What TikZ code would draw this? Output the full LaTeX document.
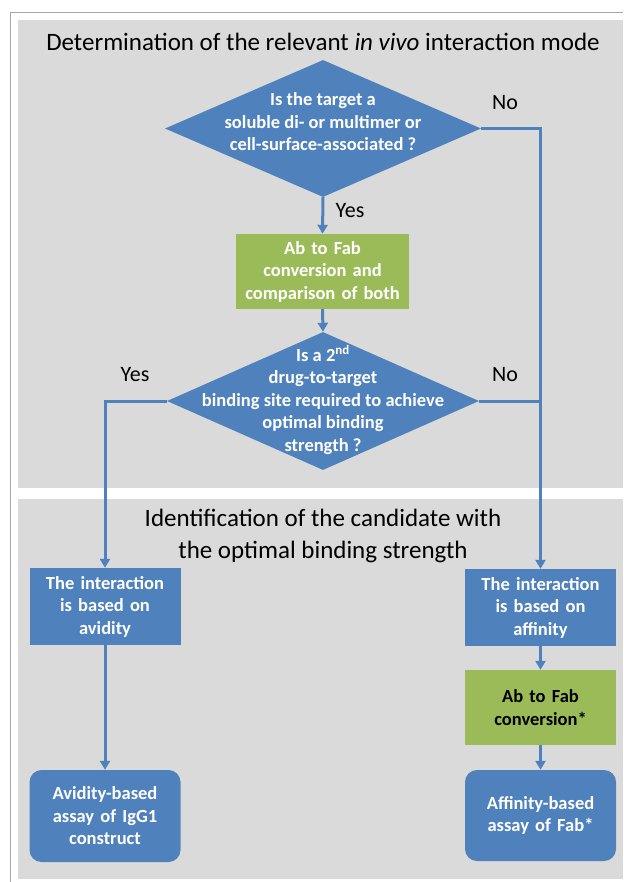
\documentclass[tikz,border=0pt]{standalone}
\usepackage{fontspec}
\setmainfont{Carlito}
\usetikzlibrary{shapes.geometric,arrows.meta}
\definecolor{Bbox}{RGB}{79,129,189}
\definecolor{Gbox}{RGB}{155,187,89}
\definecolor{Panel}{RGB}{218,218,218}
\definecolor{Frame}{RGB}{165,165,165}

\tikzset{
  decision/.style={diamond,fill=Bbox,inner sep=0pt,minimum width=316pt,minimum height=137pt},
  dtext/.style={text=white,align=center,font=\bfseries\fontsize{18.5}{22.5}\selectfont},
  bluebox/.style={rectangle,fill=Bbox,text=white,minimum width=151pt,minimum height=77pt,
    text width=145pt,align=center,inner sep=0pt,font=\bfseries\fontsize{18.5}{22.5}\selectfont},
  greenbox/.style={bluebox,fill=Gbox},
  endbox/.style={bluebox,rounded corners=12pt,minimum height=92pt},
  flow/.style={draw=Bbox,line width=3pt},
  flowarr/.style={flow,-{Triangle[width=10pt,length=9pt]}},
  lbl/.style={font=\fontsize{22}{24}\selectfont},
  heading/.style={align=center,font=\fontsize{25}{32}\selectfont}
}

\begin{document}
\begin{tikzpicture}[x=1pt,y=-1pt]
\path[use as bounding box,fill=white] (0,0) rectangle (623,882);
\draw[Frame,line width=1pt] (10.5,882) -- (10.5,13) -- (623,13);
\fill[Panel] (18,20) rectangle (623,488);
\fill[Panel] (18,499) rectangle (623,879);

% upper part
\node[heading] (title1) at (323,42) {Determination of the relevant \textit{in vivo} interaction mode};
\node[decision] (q1) at (323,128.5) {};
\node[dtext] (q1t) at (323,122) {Is the target a\\soluble di- or multimer or\\cell-surface-associated ?};
\node[greenbox,minimum width=173pt,text width=165pt,minimum height=75pt] (conv) at (322.5,271.5) {Ab to Fab\\conversion and\\comparison of both};
\node[decision,minimum width=312pt,minimum height=138pt] (q2) at (323,401) {};
\node[dtext] (q2t) at (323,400) {Is a 2\textsuperscript{nd}\\drug-to-target\\binding site required to achieve\\optimal binding\\strength ?};

% lower part
\node[heading] (title2) at (323,536) {Identification of the candidate with\\the optimal binding strength};
\node[bluebox] (vbox) at (105,606.5) {The interaction\\is based on\\avidity};
\node[bluebox] (abox) at (540.5,607.5) {The interaction\\is based on\\affinity};
\node[greenbox,text=black,minimum height=75pt] (fab) at (540.5,707.5) {Ab to Fab\\conversion*};
\node[endbox] (vassay) at (105,816) {Avidity-based\\assay of IgG1\\construct};
\node[endbox,minimum height=91pt] (fassay) at (540.5,815.5) {Affinity-based\\assay of Fab*};

% labels
\node[lbl] (yes1) at (350,211) {Yes};
\node[lbl] (no1) at (505,103) {No};
\node[lbl] (yes2) at (135,375) {Yes};
\node[lbl] (no2) at (505,375) {No};

% connectors
\draw[flowarr] (q1.south) -- (conv.north);
\draw[flowarr] (conv.south) -- (q2.north);
\draw[flowarr] (q1.east) -| (abox.north);
\draw[flow] (q2.east) -- (q2.east -| abox.north);
\draw[flowarr] (q2.west) -| (vbox.north);
\draw[flowarr] (vbox.south) -- (vassay.north);
\draw[flowarr] (abox.south) -- (fab.north);
\draw[flowarr] (fab.south) -- (fassay.north);
\end{tikzpicture}
\end{document}
